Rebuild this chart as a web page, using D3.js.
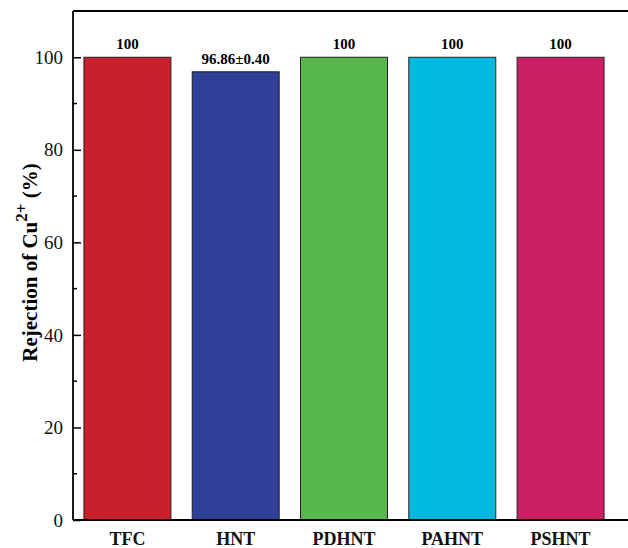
<!DOCTYPE html>
<html>
<head>
<meta charset="utf-8">
<script src="https://cdn.jsdelivr.net/npm/d3@7"></script>
<style>
  body { margin: 0; background: #fff; }
  svg { display: block; font-family: "Liberation Serif", "Times New Roman", serif; }
</style>
</head>
<body>
<svg id="chart" width="628" height="548"></svg>
<script>
// membranes and their Cu2+ rejection (%)
var categories = ["TFC", "HNT", "PDHNT", "PAHNT", "PSHNT"];
var rejection = [100, 96.86, 100, 100, 100];
var valueLabels = ["100", "96.86\u00b10.40", "100", "100", "100"];
var barColors = ["#c9212b", "#2f4098", "#59b84b", "#00b9e1", "#cc1e65"];
var yTicks = [0, 20, 40, 60, 80, 100];
var yMinor = [10, 30, 50, 70, 90];

(function() {
  var svg = d3.select("#chart");
  var W = +svg.attr("width");
  var plot = { left: 73, top: 11, bottom: 520, right: 615 };

  var x = d3.scaleBand()
    .domain(categories)
    .range([plot.left, plot.right])
    .paddingInner(0.197)
    .paddingOuter(0.101);

  var y = d3.scaleLinear().domain([0, 110]).range([plot.bottom, plot.top]);

  // bars
  svg.append("g").selectAll("rect")
    .data(categories)
    .join("rect")
    .attr("x", function(d) { return x(d); })
    .attr("y", function(d, i) { return y(rejection[i]); })
    .attr("width", x.bandwidth())
    .attr("height", function(d, i) { return y(0) - y(rejection[i]); })
    .attr("fill", function(d, i) { return barColors[i]; })
    .attr("stroke", "#222")
    .attr("stroke-width", 1);

  // value labels
  svg.append("g").selectAll("text")
    .data(categories)
    .join("text")
    .attr("x", function(d) { return x(d) + x.bandwidth() / 2; })
    .attr("y", function(d, i) { return y(rejection[i]) - 8; })
    .attr("text-anchor", "middle")
    .attr("font-size", 15)
    .attr("font-weight", "bold")
    .text(function(d, i) { return valueLabels[i]; });

  // y axis, ticks point inward
  var yAxis = svg.append("g")
    .attr("transform", "translate(" + plot.left + ",0)")
    .call(d3.axisRight(y).tickValues(yTicks).tickSize(8).tickFormat(d3.format("d")));
  yAxis.select(".domain").remove();
  yAxis.selectAll("line").attr("stroke", "#000").attr("stroke-width", 1.5);
  yAxis.selectAll("text")
    .attr("x", -10)
    .attr("text-anchor", "end")
    .attr("font-size", 19)
    .attr("font-family", "Liberation Serif")
    .attr("fill", "#111");

  svg.append("g").selectAll("line")
    .data(yMinor)
    .join("line")
    .attr("x1", plot.left).attr("x2", plot.left + 4)
    .attr("y1", function(d) { return y(d); })
    .attr("y2", function(d) { return y(d); })
    .attr("stroke", "#000").attr("stroke-width", 1.5);

  // frame: left, top, bottom (right side is cropped)
  var frame = svg.append("g").attr("stroke", "#000").attr("stroke-width", 1.8);
  frame.append("line").attr("x1", plot.left).attr("x2", plot.left).attr("y1", plot.top).attr("y2", plot.bottom);
  frame.append("line").attr("x1", plot.left).attr("x2", W).attr("y1", plot.top).attr("y2", plot.top);
  frame.append("line").attr("x1", plot.left).attr("x2", W).attr("y1", plot.bottom).attr("y2", plot.bottom);

  // x axis labels
  var xAxis = svg.append("g")
    .attr("transform", "translate(0," + plot.bottom + ")")
    .call(d3.axisBottom(x).tickSize(0));
  xAxis.select(".domain").remove();
  xAxis.selectAll("text")
    .attr("y", 25)
    .attr("dy", 0)
    .attr("font-size", 18)
    .attr("font-weight", "bold")
    .attr("font-family", "Liberation Serif")
    .attr("fill", "#111");

  // y title
  var title = svg.append("text")
    .attr("transform", "translate(37," + ((plot.top + plot.bottom) / 2 - 3) + ") rotate(-90)")
    .attr("text-anchor", "middle")
    .attr("font-size", 21)
    .attr("font-weight", "bold");
  title.append("tspan").text("Rejection of Cu");
  title.append("tspan").attr("dy", -10).attr("font-size", 17).text("2+");
  title.append("tspan").attr("dy", 10).text(" (%)");
})();
</script>
</body>
</html>
